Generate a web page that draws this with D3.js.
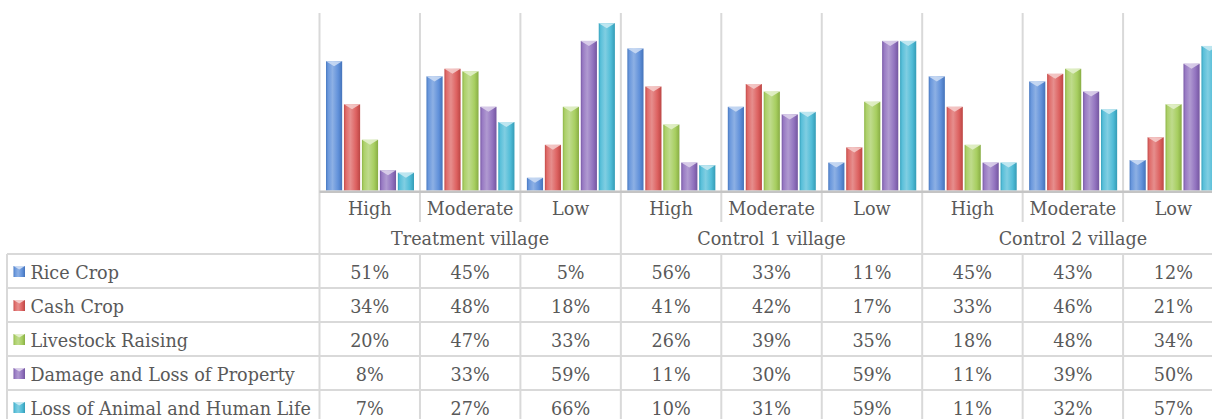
<!DOCTYPE html>
<html>
<head>
<meta charset="utf-8">
<script src="https://cdn.jsdelivr.net/npm/d3@7/dist/d3.min.js"></script>
<style>
  html, body { margin: 0; padding: 0; background: #ffffff; }
  svg { display: block; }
  text { font-family: "DejaVu Serif", "Liberation Serif", serif; fill: #595959; }
</style>
</head>
<body>
<svg id="chart" width="1212" height="419"></svg>
<script>
// ---------- data ----------
const villages = ["Treatment village", "Control 1 village", "Control 2 village"];
const levels = ["High", "Moderate", "Low"];
const seriesNames = ["Rice Crop", "Cash Crop", "Livestock Raising", "Damage and Loss of Property", "Loss of Animal and Human Life"];
const riceCrop     = [0.51, 0.45, 0.05, 0.56, 0.33, 0.11, 0.45, 0.43, 0.12];
const cashCrop     = [0.34, 0.48, 0.18, 0.41, 0.42, 0.17, 0.33, 0.46, 0.21];
const livestock    = [0.20, 0.47, 0.33, 0.26, 0.39, 0.35, 0.18, 0.48, 0.34];
const damageLoss   = [0.08, 0.33, 0.59, 0.11, 0.30, 0.59, 0.11, 0.39, 0.50];
const lifeLoss     = [0.07, 0.27, 0.66, 0.10, 0.31, 0.59, 0.11, 0.32, 0.57];
const seriesValues = [riceCrop, cashCrop, livestock, damageLoss, lifeLoss];
const seriesColors = ["#4f85d6", "#d9514f", "#9dc84e", "#8663b8", "#3cb4d2"];
const axisMax = 0.7;

// ---------- layout ----------
const svg = d3.select("#chart");
const colWidth = 100.45;
const plotLeft = 319.5;
const plotTop = 13;
const baseY = 190.5;
const tableTop = 254;
const rowH = 34;
const tableLeft = 7;
const gridColor = "#d9d9d9";
const fontSize = 17.6;

const columns = d3.range(villages.length * levels.length);
const x = d3.scaleBand().domain(columns).range([plotLeft, plotLeft + colWidth * columns.length]).padding(0);
const xInner = d3.scaleBand().domain(seriesNames).range([6.5, 94.5]).paddingInner(0.1);
const y = d3.scaleLinear().domain([0, axisMax]).range([baseY, plotTop]);

// ---------- gradients ----------
const defs = svg.append("defs");
function shade(c, k) { return d3.color(c).darker(k).formatHex(); }
function tint(c, k) { return d3.interpolateRgb(c, "#ffffff")(k); }
seriesColors.forEach((c, i) => {
  const g = defs.append("linearGradient").attr("id", "g" + i).attr("x1", 0).attr("x2", 1).attr("y1", 0).attr("y2", 0);
  g.append("stop").attr("offset", 0).attr("stop-color", shade(c, 0.3));
  g.append("stop").attr("offset", 0.12).attr("stop-color", tint(c, 0.15));
  g.append("stop").attr("offset", 0.4).attr("stop-color", tint(c, 0.35));
  g.append("stop").attr("offset", 0.75).attr("stop-color", tint(c, 0.1));
  g.append("stop").attr("offset", 1).attr("stop-color", shade(c, 0.4));
});

// ---------- grid lines ----------
const grid = svg.append("g").attr("stroke", gridColor).attr("stroke-width", 2);
const boundaries = d3.range(columns.length + 1);
const xb = i => i === columns.length ? x(columns.length - 1) + x.bandwidth() : x(i);
boundaries.forEach(i => {
  const isGroup = i % levels.length === 0;
  grid.append("line").attr("x1", xb(i)).attr("x2", xb(i))
    .attr("y1", plotTop).attr("y2", isGroup ? 419 : 222);
  if (!isGroup) {
    grid.append("line").attr("x1", xb(i)).attr("x2", xb(i))
      .attr("y1", tableTop).attr("y2", 419);
  }
});
// table horizontals
d3.range(seriesNames.length + 1).forEach(r => {
  grid.append("line").attr("x1", tableLeft).attr("x2", 1212)
    .attr("y1", tableTop + r * rowH).attr("y2", tableTop + r * rowH);
});
grid.append("line").attr("x1", tableLeft).attr("x2", tableLeft).attr("y1", tableTop).attr("y2", 419);

// ---------- bars ----------
const barData = [];
seriesValues.forEach((vals, s) => vals.forEach((v, c) => barData.push({ s, c, v })));
const bars = svg.append("g");
bars.selectAll("rect.bar").data(barData).join("rect")
  .attr("class", "bar")
  .attr("x", d => x(d.c) + xInner(seriesNames[d.s]))
  .attr("y", d => y(d.v))
  .attr("width", xInner.bandwidth())
  .attr("height", d => y(0) - y(d.v))
  .attr("fill", d => "url(#g" + d.s + ")");
// bevel chevron on top
bars.selectAll("path.cap").data(barData).join("path")
  .attr("class", "cap")
  .attr("d", d => {
    const x0 = x(d.c) + xInner(seriesNames[d.s]);
    const w = xInner.bandwidth();
    const y0 = y(d.v);
    const h = Math.min(5, (y(0) - y(d.v)) / 2);
    return `M${x0},${y0}L${x0 + w},${y0}L${x0 + w / 2},${y0 + h}Z`;
  })
  .attr("fill", d => tint(seriesColors[d.s], 0.7))
  .attr("opacity", 0.9);

// baseline
svg.append("line").attr("x1", plotLeft).attr("x2", 1212)
  .attr("y1", baseY + 1.2).attr("y2", baseY + 1.2)
  .attr("stroke", "#c4c4c4").attr("stroke-width", 2.5);

// ---------- category labels ----------
const labels = svg.append("g").attr("font-size", fontSize).attr("text-anchor", "middle");
labels.selectAll("text.lvl").data(columns).join("text")
  .attr("class", "lvl")
  .attr("x", c => x(c) + x.bandwidth() / 2)
  .attr("y", 215)
  .text(c => levels[c % levels.length]);
labels.selectAll("text.vil").data(villages).join("text")
  .attr("class", "vil")
  .attr("x", (v, i) => x(i * levels.length) + x.bandwidth() * levels.length / 2)
  .attr("y", 244.5)
  .text(v => v);

// ---------- data table ----------
const table = svg.append("g").attr("font-size", fontSize);
seriesNames.forEach((name, s) => {
  const top = tableTop + s * rowH;
  const mk = table.append("g");
  mk.append("rect").attr("x", 13.5).attr("y", top + 12).attr("width", 11.5).attr("height", 11)
    .attr("fill", "url(#g" + s + ")");
  mk.append("path")
    .attr("d", `M13.5,${top + 12}L25,${top + 12}L19.25,${top + 15.5}Z`)
    .attr("fill", tint(seriesColors[s], 0.7));
  table.append("text").attr("x", 30.5).attr("y", top + 25).text(name);
  table.selectAll(null).data(seriesValues[s]).join("text")
    .attr("text-anchor", "middle")
    .attr("x", (v, c) => x(c) + x.bandwidth() / 2)
    .attr("y", top + 25)
    .text(v => d3.format(".0%")(v));
});
</script>
</body>
</html>
